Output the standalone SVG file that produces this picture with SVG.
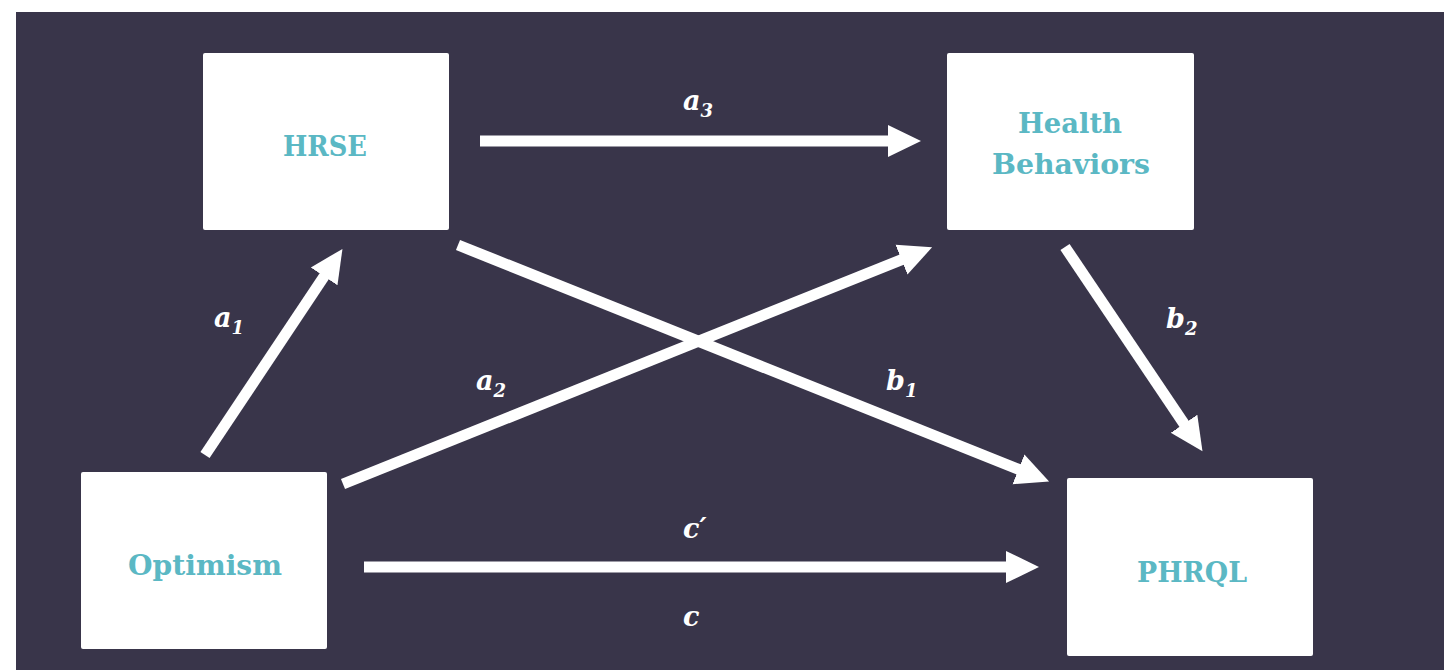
<svg xmlns="http://www.w3.org/2000/svg" width="1444" height="670" viewBox="0 0 1444 670">
  <style>
    .box { fill: #ffffff; }
    .node-label { font-family: "DejaVu Serif", "Liberation Serif", serif; font-weight: bold; font-size: 27px; fill: #5BB8C4; text-anchor: middle; }
    .edge { stroke: #ffffff; stroke-width: 11; fill: none; marker-end: url(#head); }
    .edge-label { font-family: "DejaVu Serif", "Liberation Serif", serif; font-weight: bold; font-style: italic; font-size: 27px; fill: #ffffff; }
    .sub { font-size: 18px; }
  </style>
  <defs>
    <marker id="head" markerUnits="userSpaceOnUse" markerWidth="36" markerHeight="36" viewBox="0 -18 36 36" refX="1" refY="0" orient="auto">
      <path d="M0,-16 L33,0 L0,16 z" fill="#ffffff"/>
    </marker>
  </defs>
  <rect x="16" y="12" width="1428" height="658" fill="#39354A"/>

  <g id="connectors">
    <line class="edge" x1="480" y1="141" x2="889" y2="141"/>
    <line class="edge" x1="364" y1="567" x2="1007" y2="567"/>
    <line class="edge" x1="205" y1="455" x2="324.7" y2="275.5"/>
    <line class="edge" x1="343" y1="484" x2="902.4" y2="259.3"/>
    <line class="edge" x1="458" y1="245" x2="1019.4" y2="469.7"/>
    <line class="edge" x1="1065" y1="247" x2="1184.6" y2="424.6"/>
  </g>

  <g id="labels">
    <text class="edge-label" x="683" y="110">a<tspan class="sub" dy="7">3</tspan></text>
    <text class="edge-label" x="214" y="327">a<tspan class="sub" dy="7">1</tspan></text>
    <text class="edge-label" x="476" y="390">a<tspan class="sub" dy="7">2</tspan></text>
    <text class="edge-label" x="886" y="390">b<tspan class="sub" dy="7">1</tspan></text>
    <text class="edge-label" x="1166" y="328">b<tspan class="sub" dy="7">2</tspan></text>
    <text class="edge-label" x="683" y="538">c′</text>
    <text class="edge-label" x="683" y="626">c</text>
  </g>

  <g id="node-hrse">
    <rect class="box" x="203" y="53" width="246" height="177" rx="2"/>
    <text class="node-label" x="325" y="156" textLength="84" lengthAdjust="spacingAndGlyphs">HRSE</text>
  </g>
  <g id="node-health-behaviors">
    <rect class="box" x="947" y="53" width="247" height="177" rx="2"/>
    <text class="node-label" x="1070" y="133" textLength="104" lengthAdjust="spacingAndGlyphs">Health</text>
    <text class="node-label" x="1071" y="174" textLength="158" lengthAdjust="spacingAndGlyphs">Behaviors</text>
  </g>
  <g id="node-optimism">
    <rect class="box" x="81" y="472" width="246" height="177" rx="2"/>
    <text class="node-label" x="205" y="575" textLength="154" lengthAdjust="spacingAndGlyphs">Optimism</text>
  </g>
  <g id="node-phrql">
    <rect class="box" x="1067" y="478" width="246" height="178" rx="2"/>
    <text class="node-label" x="1192" y="582" textLength="110" lengthAdjust="spacingAndGlyphs">PHRQL</text>
  </g>
</svg>
